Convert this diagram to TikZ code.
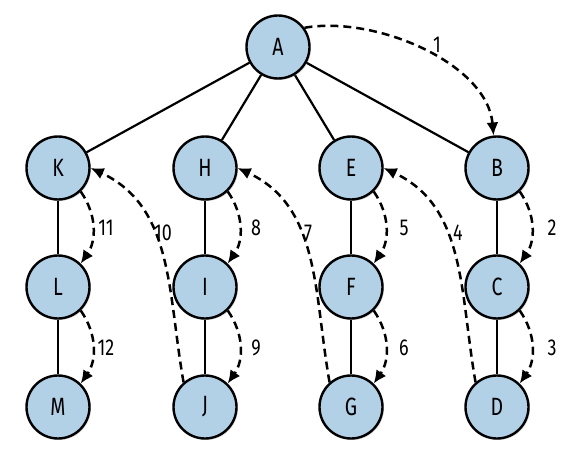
\documentclass[tikz,border=0pt]{standalone}
\usepackage{fontspec}
\setmainfont{Fira Sans}[FakeStretch=0.78]
\usetikzlibrary{arrows.meta,shadows,backgrounds}
\definecolor{nodeblue}{RGB}{178,209,231}
\begin{document}
\begin{tikzpicture}[x=1pt,y=1pt,
  vertex/.style={circle,draw=black,line width=2.4pt,fill=nodeblue,minimum size=63pt,inner sep=0pt,
    font=\fontsize{25}{27}\selectfont,
    drop shadow={shadow xshift=1.5pt,shadow yshift=-1.5pt,opacity=0.25}},
  treeedge/.style={line width=2.2pt},
  visit/.style={line width=2.5pt,dash pattern=on 8pt off 5pt,-{Latex[length=13pt,width=12pt]}},
  steplabel/.style={font=\fontsize{23}{25}\selectfont,inner sep=0pt}]
\useasboundingbox (0,0) rectangle (572,453);
% nodes
\node[vertex] (A) at (278,406) {A};
\node[vertex] (K) at (58,285) {K};
\node[vertex] (H) at (205,285) {H};
\node[vertex] (E) at (351,285) {E};
\node[vertex] (B) at (497,285) {B};
\node[vertex] (L) at (58,166) {L};
\node[vertex] (I) at (205,166) {I};
\node[vertex] (F) at (351,166) {F};
\node[vertex] (C) at (497,166) {C};
\node[vertex] (M) at (58,46) {M};
\node[vertex] (J) at (205,46) {J};
\node[vertex] (G) at (351,46) {G};
\node[vertex] (D) at (497,46) {D};
% tree edges
\begin{pgfonlayer}{background}
\draw[treeedge] (A) -- (K);
\draw[treeedge] (A) -- (H);
\draw[treeedge] (A) -- (E);
\draw[treeedge] (A) -- (B);
\draw[treeedge] (K) -- (L);
\draw[treeedge] (L) -- (M);
\draw[treeedge] (H) -- (I);
\draw[treeedge] (I) -- (J);
\draw[treeedge] (E) -- (F);
\draw[treeedge] (F) -- (G);
\draw[treeedge] (B) -- (C);
\draw[treeedge] (C) -- (D);
\end{pgfonlayer}
% traversal arrows
\draw[visit] (A.36) to[out=10,in=95,looseness=0.85] (B.96);
\draw[visit] (B.-46) to[bend left=35] (C.46);
\draw[visit] (C.-46) to[bend left=35] (D.46);
\draw[visit] (D.131) to[out=100,in=-25] (E.east);
\draw[visit] (E.-46) to[bend left=35] (F.46);
\draw[visit] (F.-46) to[bend left=35] (G.46);
\draw[visit] (G.131) to[out=100,in=-25] (H.east);
\draw[visit] (H.-46) to[bend left=35] (I.46);
\draw[visit] (I.-46) to[bend left=35] (J.46);
\draw[visit] (J.131) to[out=100,in=-25] (K.east);
\draw[visit] (K.-46) to[bend left=35] (L.46);
\draw[visit] (L.-46) to[bend left=35] (M.46);
% labels
\node[steplabel] (n1) at (437,408) {1};
\node[steplabel] (n2) at (552,225) {2};
\node[steplabel] (n3) at (552,105) {3};
\node[steplabel] (n4) at (458,220) {4};
\node[steplabel] (n5) at (404,225) {5};
\node[steplabel] (n6) at (404,105) {6};
\node[steplabel] (n7) at (308,220) {7};
\node[steplabel] (n8) at (256,225) {8};
\node[steplabel] (n9) at (256,105) {9};
\node[steplabel] (n10) at (163,220) {10};
\node[steplabel] (n11) at (106,225) {11};
\node[steplabel] (n12) at (106,105) {12};
\end{tikzpicture}
\end{document}
